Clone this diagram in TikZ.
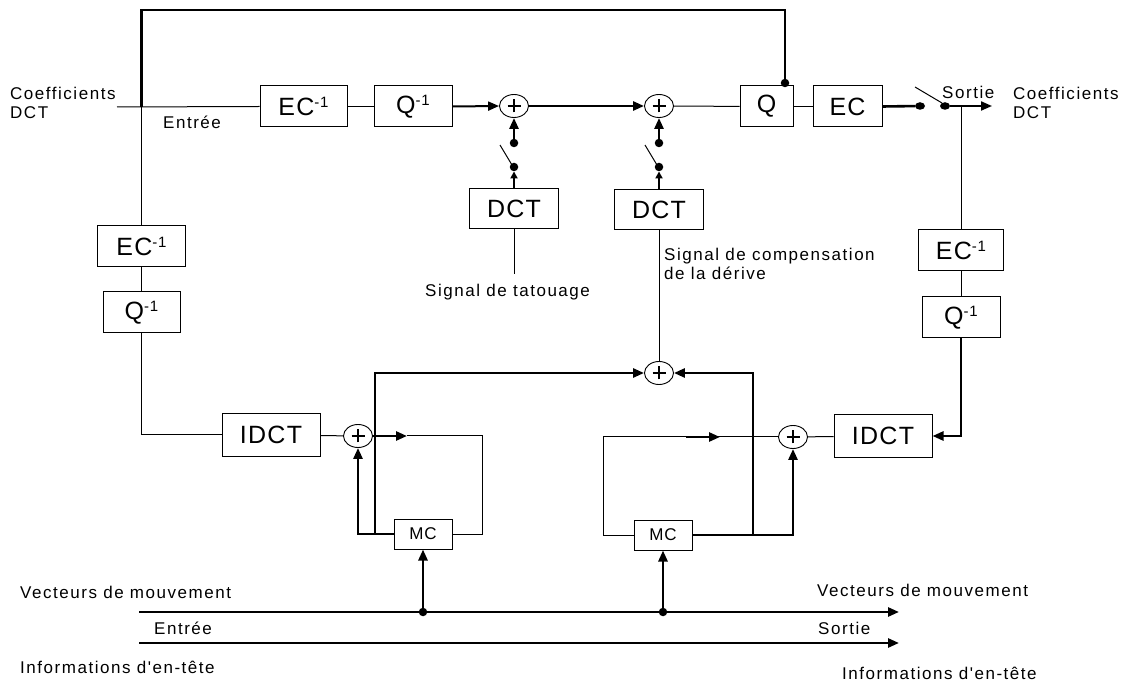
\documentclass[tikz,border=0pt]{standalone}
\usepackage{fontspec}
\setmainfont{Liberation Sans}
\newfontfamily\lblfont{Liberation Sans}[LetterSpace=9]
\newfontfamily\boxfont{Liberation Sans}[LetterSpace=5]
\usetikzlibrary{arrows.meta,shapes.geometric}
\newcommand\supm{\raisebox{8pt}{\fontsize{15}{15}\selectfont -1}}
\begin{document}
\begin{tikzpicture}[x=1pt,y=-1pt,
  thn/.style={line width=1pt},
  thk/.style={line width=2.6pt},
  arr/.style={-{Triangle[length=11pt,width=9pt]}},
  sarr/.style={-{Triangle[length=7pt,width=7pt]}},
  box/.style={draw,line width=1pt,inner sep=0pt,font=\boxfont\fontsize{25}{25}\selectfont},
  mcbox/.style={draw,line width=1pt,inner sep=0pt,minimum width=58pt,minimum height=30pt,font=\boxfont\fontsize{17}{17}\selectfont},
  lbl/.style={inner sep=0pt,font=\lblfont\fontsize{17}{19}\selectfont,align=left},
  adder/.style={draw,ellipse,line width=0.9pt,inner sep=0pt,minimum width=29pt,minimum height=23pt,
    path picture={\draw[line width=1.8pt] ([xshift=-6.5pt]path picture bounding box.center) -- ([xshift=6.5pt]path picture bounding box.center);
                  \draw[line width=1.8pt] ([yshift=-6.5pt]path picture bounding box.center) -- ([yshift=6.5pt]path picture bounding box.center);}},
  dot/.style={circle,fill,inner sep=0pt,minimum size=8.5pt},
  sdot/.style={ellipse,fill,inner sep=0pt,minimum width=10pt,minimum height=7.5pt}
]
\useasboundingbox (0,0) rectangle (1122,684);

% boxes
\node[box,minimum width=87pt,minimum height=41pt] (ec1) at (303.5,106.5) {EC\supm};
\node[box,minimum width=78pt,minimum height=41pt] (qi1) at (413,106.5) {Q\supm};
\node[box,minimum width=53pt,minimum height=41pt] (q) at (766.5,106.5) {Q};
\node[box,minimum width=69pt,minimum height=41pt] (ec) at (847.5,106.5) {EC};
\node[box,minimum width=89pt,minimum height=40pt] (dct1) at (514,209) {DCT};
\node[box,minimum width=89pt,minimum height=40pt] (dct2) at (659,209.5) {DCT};
\node[box,minimum width=88pt,minimum height=41pt] (lec) at (141.5,246.5) {EC\supm};
\node[box,minimum width=77pt,minimum height=41pt] (lq) at (141.5,312.5) {Q\supm};
\node[box,minimum width=85pt,minimum height=41pt] (rec) at (961,250.5) {EC\supm};
\node[box,minimum width=78pt,minimum height=41pt] (rq) at (961,317.5) {Q\supm};
\node[box,minimum width=98pt,minimum height=42pt] (idct1) at (271,435) {IDCT};
\node[box,minimum width=98pt,minimum height=42pt] (idct2) at (883,436) {IDCT};
\node[mcbox] (mc1) at (423,534) {MC};
\node[mcbox] (mc2) at (663,535) {MC};

% adders
\node[adder] (a1) at (514,106) {};
\node[adder] (a2) at (659,106) {};
\node[adder] (a3) at (659,373) {};
\node[adder] (a4) at (358,436) {};
\node[adder] (a5) at (793,437) {};

% coordinates
\coordinate (inL) at (117,107);
\coordinate (jL) at (141.5,107);
\coordinate (tL) at (141.5,10);
\coordinate (tR) at (785,10);
\node[dot] (qdot) at (785,83) {};
\node[sdot] (sw1) at (920,106) {};
\node[sdot] (sw2) at (945,106) {};
\coordinate (swa) at (915,87);
\coordinate (swb) at (942,103);
\coordinate (outR) at (992,106);
\coordinate (jR) at (961,106);

% main line
\draw[thn] (inL) -- (ec1.west);
\draw[thk] (jL) -- (tL) -- (tR) -- (qdot);
\draw[thn] (jL) -- (lec.north);
\draw[thn] (ec1) -- (qi1);
\draw[line width=2pt,arr] (qi1.east) -- (a1.west);
\draw[thk,arr] (a1.east) -- (a2.west);
\draw[thn] (a2) -- (q);
\draw[thn] (q) -- (ec);
\draw[thk] (ec.east) -- (sw1);
\draw[thn] (swa) -- (swb);
\draw[line width=2pt,arr] (sw2) -- (outR);
\draw[thn] (jR) -- (rec.north);
\draw[thn] (rec) -- (rq);
\coordinate (rc) at (rq.south |- idct2.east);
\draw[thk,arr] (rq.south) -- (rc) -- (idct2.east);

% watermark switches
\node[dot] (s1a) at (514,143) {};
\node[dot] (s1b) at (514,167) {};
\coordinate (s1c) at (500,145);
\coordinate (s1d) at (512,165);
\draw[thk,arr] (s1a) -- (a1.south);
\draw[thn] (s1c) -- (s1d);
\draw[line width=2pt,sarr] (dct1.north) -- (s1b.south);
\node[dot] (s2a) at (659,143) {};
\node[dot] (s2b) at (659,167) {};
\coordinate (s2c) at (645,145);
\coordinate (s2d) at (657,165);
\draw[thk,arr] (s2a) -- (a2.south);
\draw[thn] (s2c) -- (s2d);
\draw[line width=2pt,sarr] (dct2.north) -- (s2b.south);

\coordinate (tat) at (514,274);
\draw[thn] (dct1.south) -- (tat);
\node[lbl,anchor=west] (ttat) at (425,292) {Signal de tatouage};
\draw[thn] (dct2.south) -- (a3.north);
\node[lbl,anchor=west] (tcomp) at (664,264) {Signal de compensation\\de la dérive};

% left lower loop
\coordinate (lc) at (lq.south |- idct1.west);
\draw[thn] (lec) -- (lq);
\draw[thn] (lq.south) -- (lc) -- (idct1.west);
\draw[thn] (idct1) -- (a4);
\coordinate (l1) at (407,436);
\coordinate (l2) at (482,436);
\coordinate (l3) at (482,534);
\draw[thk,arr] (a4.east) -- (l1);
\draw[thn] (l1) -- (l2) -- (l3) -- (mc1.east);
\coordinate (l4) at (a4.south |- mc1.west);
\draw[thk,arr] (mc1.west) -- (l4) -- (a4.south);
\coordinate (b1) at (375,534);
\coordinate (b2) at (375,373);
\draw[thk,arr] (b1) -- (b2) -- (a3.west);

% right lower loop
\draw[thn] (idct2) -- (a5);
\coordinate (r1) at (603,437);
\coordinate (r2) at (603,535);
\coordinate (r3) at (686,437);
\coordinate (r4) at (720,437);
\draw[thn] (a5.west) -- (r1) -- (r2) -- (mc2.west);
\draw[thk,arr] (r3) -- (r4);
\coordinate (r5) at (a5.south |- mc2.east);
\draw[thk,arr] (mc2.east) -- (r5) -- (a5.south);
\coordinate (b3) at (753,535);
\coordinate (b4) at (753,373);
\draw[thk,arr] (b3) -- (b4) -- (a3.east);

% bottom bus
\coordinate (v0) at (139,612);
\coordinate (v1) at (899,612);
\coordinate (h0) at (139,643);
\coordinate (h1) at (899,643);
\draw[thk,arr] (v0) -- (v1);
\draw[thk,arr] (h0) -- (h1);
\node[dot] (d1) at (423,612) {};
\node[dot] (d2) at (663,612) {};
\draw[thk,arr] (d1) -- (mc1.south);
\draw[thk,arr] (d2) -- (mc2.south);

% labels
\node[lbl,anchor=west] (cin) at (10,103) {Coefficients\\DCT};
\node[lbl,anchor=west] (ein) at (163,122) {Entrée};
\node[lbl,anchor=west] (sout) at (942,92) {Sortie};
\node[lbl,anchor=west] (cout) at (1013,103) {Coefficients\\DCT};
\node[lbl,anchor=west] (vin) at (20,592) {Vecteurs de mouvement};
\node[lbl,anchor=west] (ein2) at (154,628) {Entrée};
\node[lbl,anchor=west] (iin) at (20,667) {Informations d'en-tête};
\node[lbl,anchor=west] (vout) at (817,590) {Vecteurs de mouvement};
\node[lbl,anchor=west] (sout2) at (818,628) {Sortie};
\node[lbl,anchor=west] (iout) at (842,673) {Informations d'en-tête};
\end{tikzpicture}
\end{document}
